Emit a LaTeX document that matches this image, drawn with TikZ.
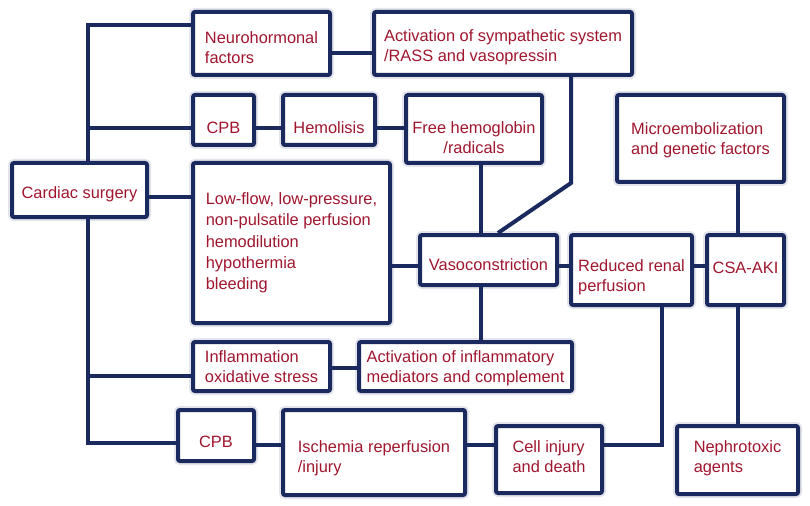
\documentclass[tikz,border=0pt]{standalone}
\usepackage{fontspec}
\setmainfont{Liberation Sans}
\definecolor{navy}{HTML}{1B2A5E}
\definecolor{textred}{HTML}{A0162E}
\newcommand\hi[1]{\rule{0pt}{#1}}
\tikzset{
  box/.style 2 args={draw=navy, line width=3pt, fill=white, text=textred,
    rounded corners=1.5pt, inner sep=0pt, align=left,
    preaction={draw=navy!12, line width=6pt},
    font=\fontsize{12.3}{15}\selectfont,
    minimum width=#1*0.75pt, minimum height=#2*0.75pt},
  up/.style={execute at end node={\rule[-#1]{0pt}{0pt}}},
  link/.style={draw=navy, line width=3pt}
}
\begin{document}
\begin{tikzpicture}[x=0.75pt,y=-0.75pt]
  \useasboundingbox (0,0) rectangle (810,506);

  %boxes
  \node[box={137}{63}] (neuro) at (261.5,43.5) {\hi{15pt}Neurohormonal\\factors};
  \node[box={258}{63}] (symp) at (503,43.5) {\hi{15pt}Activation of sympathetic system\\/RASS and vasopressin};
  \node[box={61}{50}] (cpbA) at (223.5,120) {\hi{21pt}CPB};
  \node[box={92}{50}] (hemo) at (329,120) {\hi{21pt}Hemolisis};
  \node[box={136}{68}, align=center] (freehb) at (474,129) {\hi{22pt}Free hemoglobin\\/radicals};
  \node[box={167}{87}] (micro) at (700.5,138.5) {\hi{12pt}Microembolization\\and genetic factors};
  \node[box={135}{54}] (cardiac) at (79.5,190) {\hi{15pt}Cardiac surgery};
  \node[box={197}{160}, font=\fontsize{12.3}{16}\selectfont] (lowflow) at (291.5,243)
    {Low-flow, low-pressure,\\non-pulsatile perfusion\\hemodilution\\hypothermia\\bleeding};
  \node[box={137}{50}] (vaso) at (488.5,260) {\hi{16pt}Vasoconstriction};
  \node[box={121}{70}] (renal) at (631.5,270) {\hi{19.5pt}Reduced renal\\perfusion};
  \node[box={77}{70}, up=3pt] (csa) at (745.5,270) {CSA-AKI};
  \node[box={137}{49}] (inflam) at (261.5,366.5) {Inflammation\\oxidative stress};
  \node[box={213}{49}] (mediat) at (465.5,366.5) {\hi{12pt}Activation of inflammatory\\mediators and complement};
  \node[box={76}{51}] (cpbB) at (216,435.5) {\hi{18pt}CPB};
  \node[box={182}{85}] (isch) at (374,452.5) {\hi{18pt}Ischemia reperfusion\\/injury};
  \node[box={106}{67}, up=5pt] (cell) at (549,459.5) {Cell injury\\and death};
  \node[box={121}{68}, up=5.5pt] (nephro) at (737.5,460) {Nephrotoxic\\agents};

  %trunk
  \coordinate (tTop) at (88,25);
  \coordinate (tBot) at (88,443);
  \draw[link] (neuro.west |- tTop) -- (tTop) -- (tTop |- cardiac.north);
  \draw[link] (tTop |- cardiac.south) -- (tBot) -- (cpbB.west |- tBot);
  \draw[link] (tTop |- 0,128) -- (cpbA.west |- 0,128);
  \draw[link] (tTop |- 0,376) -- (inflam.west |- 0,376);

  %rows
  \draw[link] (cpbA.east |- 0,128) -- (hemo.west |- 0,128);
  \draw[link] (hemo.east |- 0,128) -- (freehb.west |- 0,128);
  \draw[link] (neuro.east |- 0,53) -- (symp.west |- 0,53);
  \draw[link] (cardiac.east |- 0,197) -- (lowflow.west |- 0,197);
  \draw[link] (lowflow.east |- 0,266) -- (vaso.west |- 0,266);
  \draw[link] (vaso.east |- 0,266) -- (renal.west |- 0,266);
  \draw[link] (renal.east |- 0,266) -- (csa.west |- 0,266);
  \draw[link] (inflam.east |- 0,368) -- (mediat.west |- 0,368);
  \draw[link] (cpbB.east |- 0,445) -- (isch.west |- 0,445);
  \draw[link] (isch.east |- 0,445) -- (cell.west |- 0,445);

  %columns
  \draw[link] (freehb.south -| 481,0) -- (vaso.north -| 481,0);
  \draw[link] (symp.south -| 571,0) -- (571,183) -- (vaso.north -| 498,0);
  \draw[link] (vaso.south -| 481,0) -- (mediat.north -| 481,0);
  \draw[link] (micro.south -| 738,0) -- (csa.north -| 738,0);
  \draw[link] (csa.south -| 738,0) -- (nephro.north -| 738,0);
  \draw[link] (cell.east |- 0,445) -- (662,445) -- (renal.south -| 662,0);
\end{tikzpicture}
\end{document}
